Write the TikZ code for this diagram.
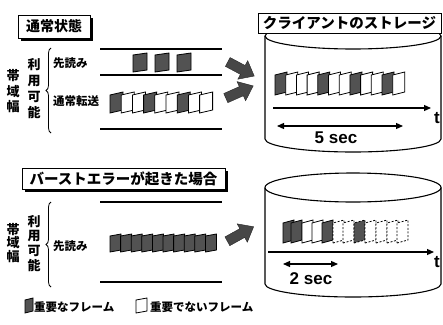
\documentclass[tikz,border=0pt]{standalone}
\usepackage{fontspec}
\newfontfamily\jp{Noto Sans CJK JP}
\newfontfamily\lat{Liberation Sans}
\usetikzlibrary{shadows,decorations.pathreplacing,arrows.meta}
\newcommand\myfr[6]{\draw[#6] (#1,-#2) -- ++(#3,#5) -- ++(0,#4) -- ++(-#3,-#5) -- cycle;}
\tikzset{
  frS/.style={draw=black, line width=0.8pt, fill=black!68},
  frW/.style={draw=black, line width=0.8pt, fill=white},
  frD/.style={draw=black, line width=0.8pt, fill=white, dash pattern=on 2pt off 1.6pt},
  frSD/.style={draw=black, line width=0.8pt, fill=black!68, dash pattern=on 2pt off 1.6pt},
  tbox/.style={draw, line width=0.9pt, fill=white, inner sep=0pt,
    drop shadow={shadow xshift=2.5pt,shadow yshift=-2.5pt,fill=black,opacity=1}},
  lane/.style={line width=1.3pt},
  cyl/.style={line width=1.1pt},
  axis/.style={line width=1.2pt, -{Triangle[length=7pt,width=6pt]}},
  span/.style={line width=1.2pt, {Triangle[length=7pt,width=6pt]}-{Triangle[length=7pt,width=6pt]}},
  bigarrow/.style={fill=black!72, draw=black!85, line width=0.4pt},
  jtext/.style={font=\jp\bfseries\fontsize{11.5}{13}\selectfont, inner sep=0pt},
  vchar/.style={font=\jp\bfseries\fontsize{13}{14}\selectfont, inner sep=0pt},
  ltext/.style={font=\lat\bfseries\fontsize{17}{19}\selectfont, inner sep=0pt}
}
\begin{document}
\begin{tikzpicture}[x=1pt,y=1pt]
\useasboundingbox (0,0) rectangle (443,-324);

% ---------- top-left section ----------
\node[tbox, minimum width=72pt, minimum height=23pt, font=\jp\bfseries\fontsize{14}{16}\selectfont] (normal) at (54,-26.5) {通常状態};
\foreach \c/\y [count=\k] in {帯/76,域/91.5,幅/107} { \node[vchar] (bwa\k) at (13,-\y) {\c}; }
\foreach \c/\y [count=\k] in {利/65,用/81,可/97,能/113} { \node[vchar] (ava\k) at (34,-\y) {\c}; }
\draw[decorate,decoration={brace,amplitude=5pt},line width=0.8pt] (51,-133) -- (51,-48);
\node[jtext, anchor=west] (pre1) at (53,-63) {先読み};
\node[jtext, anchor=west] (nor1) at (53,-101) {通常転送};
\draw[lane] (100,-49) -- (222,-49);
\draw[lane] (100,-75) -- (222,-75);
\draw[lane] (100,-129) -- (222,-129);
\foreach \x in {133,155,177} { \myfr{\x}{72}{14}{17}{2}{frS} }
\foreach \s [count=\i from 0] in {S,W,W,S,W,W,S,W,W} { \myfr{110+11.2*\i}{113}{13}{18}{3}{fr\s} }

% big arrows top
\begin{scope}[shift={(241,-69)}, rotate=-28]
  \path[bigarrow] (-15,-5) -- (2,-5) -- (2,-10.5) -- (15,0) -- (2,10.5) -- (2,5) -- (-15,5) -- cycle;
\end{scope}
\begin{scope}[shift={(239.5,-92)}, rotate=24]
  \path[bigarrow] (-15,-5) -- (2,-5) -- (2,-10.5) -- (15,0) -- (2,10.5) -- (2,5) -- (-15,5) -- cycle;
\end{scope}

% top storage cylinder
\draw[cyl, fill=white] (265,-36) -- (265,-139) arc[start angle=180,end angle=360,x radius=88,y radius=13] -- (441,-36);
\draw[cyl] (353,-36) ellipse[x radius=88,y radius=13];
\node[draw, fill=white, line width=0.9pt, minimum width=183pt, minimum height=20pt, inner sep=0pt, font=\jp\bfseries\fontsize{14.5}{16}\selectfont] (store) at (349.5,-23) {クライアントのストレージ};
\foreach \s [count=\i from 0] in {S,W,W,W,S,W,W,S,W,W,S,W} { \myfr{275+10.7*\i}{95}{12}{20}{3}{fr\s} }
\coordinate (a1s) at (273,-108);
\coordinate (a1e) at (431,-108);
\draw[axis] (a1s) -- (a1e);
\node[ltext] (t1) at (437,-118) {t};
\coordinate (s1a) at (277,-126);
\coordinate (s1b) at (403,-126);
\draw[span] (s1a) -- (s1b);
\node[ltext] (sec5) at (336,-138) {5 sec};

% ---------- bottom-left section ----------
\node[tbox, minimum width=203pt, minimum height=21pt, font=\jp\bfseries\fontsize{14.5}{16}\selectfont] (burst) at (123.5,-178.5) {バーストエラーが起きた場合};
\foreach \c/\y [count=\k] in {帯/229.5,域/243,幅/256.5} { \node[vchar] (bwb\k) at (13,-\y) {\c}; }
\foreach \c/\y [count=\k] in {利/222,用/236.5,可/251,能/265.5} { \node[vchar] (avb\k) at (34,-\y) {\c}; }
\draw[decorate,decoration={brace,amplitude=5pt},line width=0.8pt] (51,-287) -- (51,-202);
\node[jtext, anchor=west] (pre2) at (53,-246) {先読み};
\draw[lane] (100,-202) -- (222,-202);
\draw[lane] (100,-282) -- (222,-282);
\foreach \i in {0,...,9} { \myfr{110+10.6*\i}{252}{11}{16}{2}{frS} }

\begin{scope}[shift={(240.5,-234)}, rotate=29]
  \path[bigarrow] (-15,-5) -- (2,-5) -- (2,-10.5) -- (15,0) -- (2,10.5) -- (2,5) -- (-15,5) -- cycle;
\end{scope}

% bottom storage cylinder
\draw[cyl, fill=white] (265,-187.5) -- (265,-284) arc[start angle=180,end angle=360,x radius=88,y radius=13] -- (441,-187.5);
\draw[cyl] (353,-187.5) ellipse[x radius=88,y radius=14.5];
\foreach \x/\s in {283/S,291/S,302/W,312/W,322/S,333/D,343/D,354/SD,365/D,376/D,387/D,397/D} { \myfr{\x}{243}{11}{20}{3}{fr\s} }
\coordinate (a2s) at (268,-252);
\coordinate (a2e) at (434,-252);
\draw[axis] (a2s) -- (a2e);
\node[ltext] (t2) at (437,-262) {t};
\coordinate (s2a) at (283,-264);
\coordinate (s2b) at (338,-264);
\draw[span] (s2a) -- (s2b);
\node[ltext] (sec2) at (311,-279) {2 sec};

% ---------- legend ----------
\myfr{25}{313}{8}{13}{2}{frS}
\node[jtext, anchor=west] (lg1) at (34,-307) {重要なフレーム};
\myfr{136}{313}{11}{13}{2}{frW}
\node[jtext, anchor=west] (lg2) at (150,-307) {重要でないフレーム};
\end{tikzpicture}
\end{document}
